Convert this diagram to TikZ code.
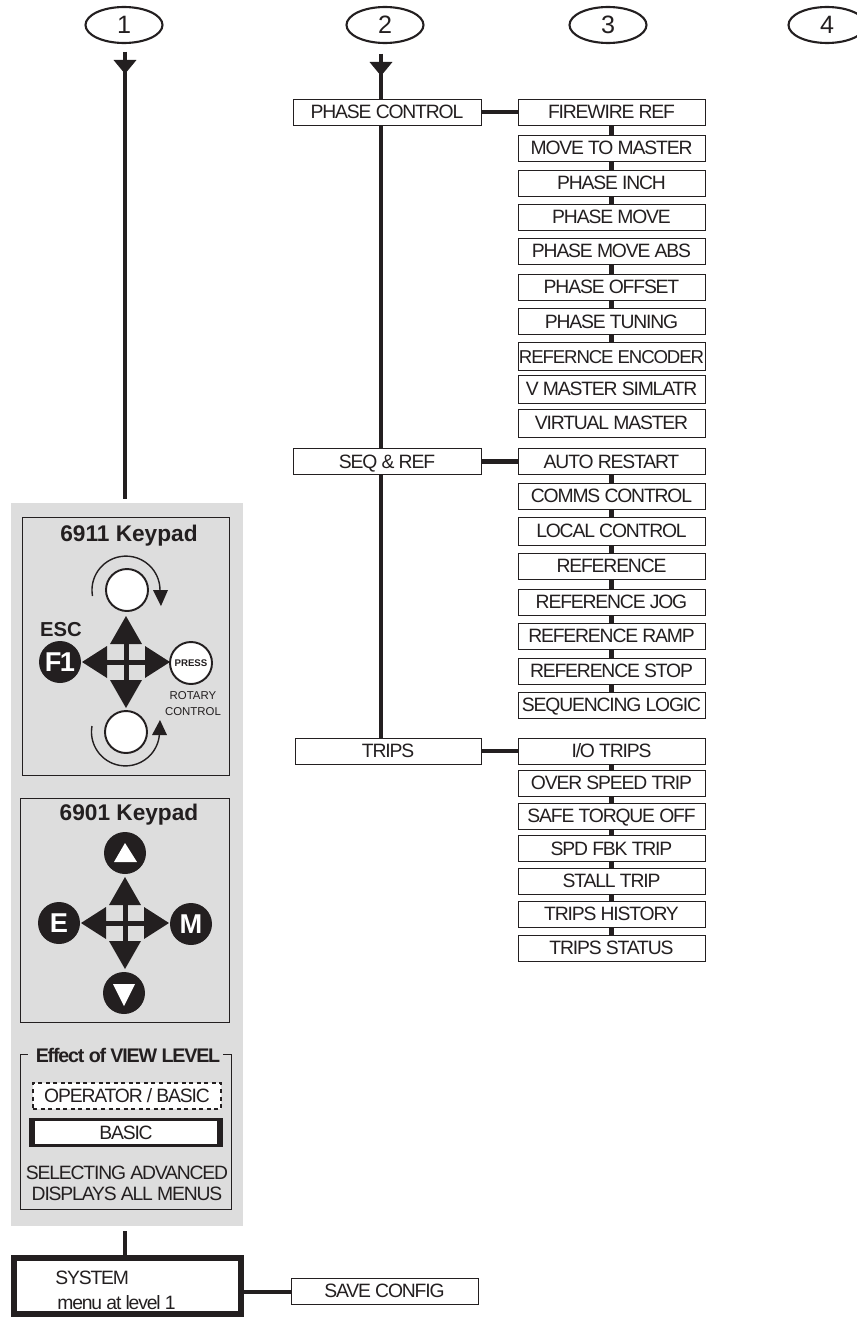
\documentclass[tikz,border=0pt]{standalone}
\usepackage{fontspec}
\setmainfont{Liberation Sans}
\newfontfamily\tightfont[LetterSpace=-6]{Liberation Sans}
\usetikzlibrary{arrows.meta,shapes.geometric}
\definecolor{ink}{HTML}{231F20}
\definecolor{panelgray}{HTML}{DDDDDD}
\newcommand{\px}{0.02cm}
\tikzset{
  menubox/.style={draw=ink,fill=white,line width=0.45pt,minimum width=187*\px,minimum height=26*\px,inner sep=0pt,text=ink,text height=7.9pt,text depth=0pt,font=\tightfont\fontsize{11}{12}\selectfont},
  tallbox/.style={menubox,minimum height=28*\px},
  columntag/.style={draw=ink,fill=white,ellipse,line width=1.2pt,minimum width=77*\px,minimum height=36*\px,inner sep=0pt,text=ink,font=\fontsize{14.3}{15}\selectfont},
  link/.style={draw=ink,line width=2.7pt},
  headlink/.style={link,-{Triangle[length=14*\px,width=22*\px]}},
  keyframe/.style={draw=ink,line width=0.45pt},
  keytitle/.style={text=ink,font=\fontsize{12.9}{13}\selectfont\bfseries,inner sep=0pt},
  blackkey/.style={circle,fill=ink,minimum size=42*\px,inner sep=0pt,text=white,font=\tightfont\fontsize{15.5}{16}\selectfont\bfseries},
  whitekey/.style={circle,draw=ink,fill=white,line width=1.1pt,minimum size=42*\px,inner sep=0pt},
  padlabel/.style={text=ink,inner sep=0pt,font=\fontsize{6.5}{7}\selectfont},
  viewtext/.style={text=ink,inner sep=0pt,text height=7.9pt,text depth=0pt,font=\tightfont\fontsize{11}{12}\selectfont},
  padcross/.pic={
    \fill[ink] (0,-46) -- (-16,-18) -- (16,-18) -- cycle;
    \fill[ink] (0,46) -- (-16,18) -- (16,18) -- cycle;
    \fill[ink] (-44,0) -- (-19,-16) -- (-19,16) -- cycle;
    \fill[ink] (44,0) -- (19,-16) -- (19,16) -- cycle;
    \fill[ink] (-19,-2.5) rectangle (19,2.5);
    \fill[ink] (-2.5,-18) rectangle (2.5,18);
  }
}
\begin{document}
\begin{tikzpicture}[x=0.02cm,y=-0.02cm]
\useasboundingbox (0,0) rectangle (857,1318);
% column tags
\node[columntag] (tag1) at (124,25) {1};
\node[columntag] (tag2) at (385,25) {2};
\node[columntag] (tag3) at (608,25) {3};
\node[columntag] (tag4) at (827,25) {4};
\coordinate (top1) at (125,52);
\coordinate (tip1) at (125,74);
\coordinate (end1) at (125,499);
\coordinate (drop1) at (125,1231);
\coordinate (top2) at (381,54);
\coordinate (tip2) at (381,76);
\coordinate (saveline) at (300,1292);
% grey panel and keypads
\fill[panelgray] (11,503) rectangle (243,1226);
\node[keyframe,minimum width=207*\px,minimum height=258*\px,inner sep=0pt] (pad6911) at (125.5,646) {};
\node[keyframe,minimum width=209*\px,minimum height=224*\px,inner sep=0pt] (pad6901) at (124.5,910) {};
\node[keyframe,minimum width=211*\px,minimum height=155*\px,inner sep=0pt] (viewframe) at (125.5,1131.5) {};
% 6911
\node[keytitle] (title6911) at (129,536) {6911 Keypad};
\draw[ink,line width=0.8pt] (92.5,596) arc[start angle=170,end angle=360,radius=34];
\draw[ink,line width=0.8pt] (92,726) arc[start angle=190,end angle=0,radius=34];
\fill[ink] (161,606) -- (153,590) -- (168,590) -- cycle;
\fill[ink] (160,720) -- (152,735) -- (167,735) -- cycle;
\pic at (126,662) {padcross};
\node[whitekey] (rotup) at (127,590) {};
\node[whitekey] (rotdown) at (126,732) {};
\node[whitekey,font=\fontsize{5.5}{6}\selectfont\bfseries,text=ink] (press) at (191,663) {PRESS};
\node[blackkey] (keyf) at (60,662) {F1};
\node[text=ink,inner sep=0pt,font=\fontsize{11.5}{12}\selectfont\bfseries] (esc) at (61,630) {ESC};
\node[padlabel] (rotary) at (193,696) {ROTARY};
\node[padlabel] (control) at (193,712) {CONTROL};
% 6901
\node[keytitle] (title6901) at (129,815) {6901 Keypad};
\pic at (125,923) {padcross};
\node[blackkey] (keyup) at (125,853) {};
\fill[white] (125,843) -- (114,862) -- (137,862) -- cycle;
\node[blackkey] (keydown) at (124,993) {};
\fill[white] (124,1006) -- (113,984) -- (135,984) -- cycle;
\node[blackkey] (keye) at (59,923) {E};
\node[blackkey] (keym) at (191,924) {M};
% view level
\fill[panelgray] (28,1046) rectangle (223,1064);
\node[text=ink,inner sep=0pt,font=\tightfont\fontsize{11.2}{12}\selectfont\bfseries] (viewtitle) at (128,1055) {Effect of VIEW LEVEL};
\node[viewtext,draw=ink,dash pattern=on 2.3pt off 2pt,fill=white,line width=1pt,minimum width=188*\px,minimum height=26*\px] (operator) at (127,1096) {OPERATOR / BASIC};
\node[viewtext,fill=white,minimum width=188*\px,minimum height=26*\px] (basic) at (126,1132.5) {BASIC};
\draw[ink,line width=1.7pt] (basic.north west) rectangle (basic.south east);
\fill[ink] (29,1118) rectangle (35,1147);
\fill[ink] (217,1118) rectangle (223,1147);
\node[viewtext] (viewa) at (127,1173) {SELECTING ADVANCED};
\node[viewtext] (viewb) at (127,1194) {DISPLAYS ALL MENUS};
% system
\node[draw=ink,line width=3.4pt,fill=white,minimum width=227*\px,minimum height=56*\px,inner sep=0pt] (system) at (127.5,1286) {};
\node[viewtext,anchor=west] (systema) at (55,1278) {SYSTEM};
\node[viewtext,anchor=west] (systemb) at (57,1303) {menu at level 1};
\node[menubox] (save) at (384.5,1291) {SAVE CONFIG};
% column 2
\node[menubox,minimum width=188*\px] (phase) at (387,112) {PHASE CONTROL};
\node[menubox,minimum width=188*\px] (seq) at (387,461.5) {SEQ \& REF};
\node[menubox,minimum width=186*\px] (trips) at (388,751) {TRIPS};
% column 3
\foreach \boxname/\ypos/\boxtext in {
  fire/112/FIREWIRE REF, move/148/MOVE TO MASTER, inch/183/PHASE INCH, pmove/217/PHASE MOVE,
  pabs/251/PHASE MOVE ABS, poff/287/PHASE OFFSET, ptune/321.5/PHASE TUNING,
  auto/461.5/AUTO RESTART, comms/496/COMMS CONTROL, refer/566/REFERENCE,
  rjog/602/REFERENCE JOG, rramp/636/REFERENCE RAMP, rstop/671/REFERENCE STOP, sequ/705/SEQUENCING LOGIC,
  io/751/{I/O TRIPS}, over/783/OVER SPEED TRIP, safe/816/SAFE TORQUE OFF, spd/848.5/SPD FBK TRIP,
  stall/881/STALL TRIP, hist/914/TRIPS HISTORY, stat/948/TRIPS STATUS}
  \node[menubox] (\boxname) at (611.5,\ypos) {\boxtext};
\foreach \boxname/\ypos/\boxtext in {
  renc/356.5/{\fontsize{10.6}{12}\selectfont REFERNCE ENCODER}, vmas/389/V MASTER SIMLATR,
  virt/423/VIRTUAL MASTER, local/531/LOCAL CONTROL}
  \node[tallbox] (\boxname) at (611.5,\ypos) {\boxtext};
% links
\draw[link] (top1) -- (end1);
\draw[headlink] (top1) -- (tip1);
\draw[link] (top2) -- (top2 |- phase.north);
\draw[headlink] (top2) -- (tip2);
\draw[link] (top2 |- phase.south) -- (top2 |- seq.north);
\draw[link] (top2 |- seq.south) -- (top2 |- trips.north);
\draw[link] (drop1) -- (drop1 |- system.north);
\draw[link] (system.east |- saveline) -- (save.west |- saveline);
\draw[link] (phase.east) -- (fire.west);
\draw[link] (seq.east) -- (auto.west);
\draw[link] (trips.east) -- (io.west);
\foreach \upper/\lower in {fire/move,move/inch,inch/pmove,pabs/poff,poff/ptune,ptune/renc,
  auto/comms,comms/local,local/refer,refer/rjog,rjog/rramp,rramp/rstop,rstop/sequ,
  io/over,over/safe,safe/spd,spd/stall,stall/hist,hist/stat}
  \draw[link] (\upper.south) -- (\lower.north);
\end{tikzpicture}
\end{document}
